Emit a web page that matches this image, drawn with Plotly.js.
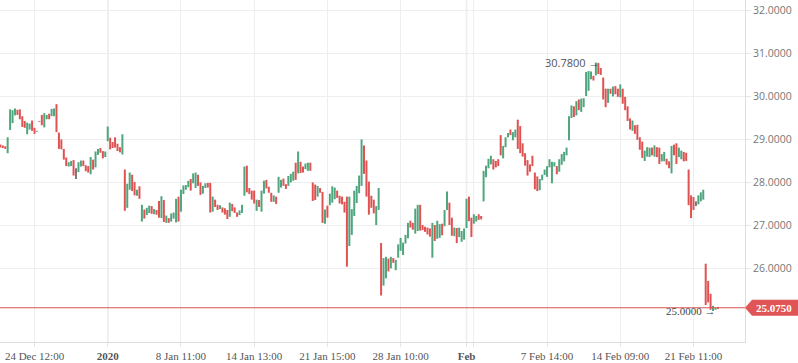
<!DOCTYPE html>
<html>
<head>
<meta charset="utf-8">
<script src="https://cdn.plot.ly/plotly-3.0.1.min.js"></script>
<style>
html,body{margin:0;padding:0;background:#fff;}
#chart{width:798px;height:363px;}
</style>
</head>
<body>
<div id="chart"></div>
<script>
// Bar highs (top of each bar)
const hi = [28.87,28.85,28.83,29.04,29.69,29.67,29.71,29.68,29.69,29.53,
29.42,29.38,29.36,29.43,29.26,29.19,29.42,29.56,29.60,29.56,
29.59,29.70,29.71,29.81,29.15,28.99,28.77,28.57,28.46,28.49,
28.51,28.32,28.46,28.50,28.50,28.39,28.37,28.58,28.52,28.71,
28.77,28.79,28.72,28.71,29.29,29.03,28.93,29.04,28.89,28.81,
29.11,28.29,27.96,28.22,28.17,28.00,27.82,27.90,27.47,27.36,
27.40,27.45,27.44,27.37,27.35,27.56,27.67,27.58,27.22,27.16,
27.27,27.29,27.61,27.66,27.82,27.92,27.93,28.03,28.07,28.20,
28.22,28.17,27.99,27.91,27.97,27.98,27.98,27.66,27.59,27.47,
27.46,27.41,27.39,27.35,27.52,27.49,27.41,27.29,27.34,27.47,
28.36,28.38,27.86,27.80,27.80,27.59,27.58,27.80,28.03,28.05,
27.89,27.75,27.69,27.66,28.12,28.05,28.08,27.95,28.14,28.19,
28.24,28.45,28.71,28.47,28.36,28.43,28.45,28.45,27.99,27.94,
27.91,27.86,27.77,27.36,27.45,27.73,27.90,27.87,27.80,27.68,
27.66,27.54,27.66,27.66,27.37,27.80,27.91,28.15,28.99,28.85,
28.50,28.01,27.68,27.59,27.44,27.86,26.58,26.23,26.26,26.22,
26.26,26.23,26.19,26.55,26.70,26.59,26.77,27.05,27.10,27.05,
27.38,27.47,27.47,27.00,26.96,26.94,26.92,27.05,27.00,27.10,
27.02,27.03,27.35,27.78,27.52,27.17,26.94,26.93,26.94,26.86,
26.92,27.61,27.66,27.17,27.25,27.21,27.25,27.21,28.26,28.38,
28.54,28.61,28.53,28.49,28.53,29.09,28.84,29.04,29.14,29.22,
29.16,29.22,29.45,29.30,28.90,28.67,28.51,28.41,28.61,28.22,
28.13,28.07,28.17,28.29,28.37,28.53,28.47,28.46,28.37,28.53,
28.65,28.70,28.80,29.53,29.78,29.76,29.88,29.92,29.94,29.95,
30.56,30.58,30.57,30.47,30.78,30.77,30.65,30.43,30.17,30.17,
30.17,30.22,30.23,30.17,30.27,30.17,29.98,29.76,29.48,29.43,
29.32,29.33,29.04,28.94,28.73,28.81,28.80,28.80,28.85,28.81,
28.80,28.65,28.70,28.54,28.48,28.84,28.87,28.90,28.80,28.73,
28.70,28.68,28.29,27.69,27.65,27.55,27.69,27.76,27.82,26.10,
25.70,25.40,25.12,25.07,25.09];
// Bar lows (bottom of each bar)
const lo = [28.80,28.79,28.77,28.67,29.21,29.37,29.55,29.56,29.46,29.28,
29.26,29.11,29.22,29.19,29.12,29.17,29.40,29.32,29.27,29.46,
29.46,29.53,29.53,29.16,28.77,28.76,28.52,28.37,28.36,28.37,
28.15,28.07,28.23,28.36,28.37,28.25,28.22,28.18,28.29,28.34,
28.63,28.68,28.55,28.58,28.95,28.76,28.79,28.80,28.72,28.69,
28.64,27.33,27.40,27.82,27.79,27.69,27.68,27.61,27.08,27.15,
27.23,27.28,27.26,27.25,27.24,27.17,27.16,27.07,27.05,27.05,
27.08,27.15,27.06,27.08,27.31,27.72,27.82,27.88,27.80,27.97,
27.86,27.91,27.70,27.73,27.86,27.87,27.29,27.31,27.42,27.35,
27.37,27.29,27.24,27.14,27.19,27.32,27.28,27.19,27.23,27.28,
27.68,27.76,27.72,27.59,27.50,27.33,27.42,27.31,27.73,27.85,
27.75,27.54,27.54,27.49,27.75,27.87,27.91,27.84,27.91,27.99,
28.03,28.05,28.20,28.21,28.22,28.30,28.26,28.26,27.56,27.58,
27.66,27.75,27.05,27.03,27.17,27.46,27.52,27.60,27.63,27.50,
27.48,27.29,26.03,26.51,26.77,27.21,27.51,27.74,27.91,28.19,
27.66,27.24,27.40,27.27,27.00,27.35,25.36,25.59,25.76,25.92,
25.99,26.12,25.95,26.24,26.40,26.30,26.57,26.69,26.94,26.89,
26.80,26.86,26.87,26.88,26.84,26.78,26.73,26.24,26.63,26.68,
26.70,26.76,26.97,27.35,27.00,26.75,26.74,26.58,26.72,26.61,
26.66,26.93,27.09,26.72,27.03,27.08,27.12,27.13,27.55,28.11,
28.32,28.41,28.29,28.34,28.37,28.62,28.55,28.81,29.04,29.09,
28.97,29.04,28.77,28.67,28.59,28.38,28.15,28.24,28.37,27.83,
27.79,27.81,28.04,28.16,28.12,28.34,27.97,28.36,28.18,28.24,
28.40,28.48,28.62,28.97,29.49,29.51,29.55,29.67,29.63,29.74,
30.00,30.12,30.39,30.36,30.48,30.51,30.49,29.92,29.74,29.84,
30.05,29.99,30.04,29.98,29.97,29.82,29.67,29.42,29.22,29.19,
29.12,28.98,28.75,28.56,28.49,28.59,28.58,28.62,28.59,28.58,
28.42,28.48,28.48,28.40,28.32,28.20,28.62,28.42,28.58,28.53,
28.48,28.49,27.46,27.16,27.35,27.44,27.48,27.55,27.59,25.14,
25.20,25.03,25.00,25.03,25.05];
// Direction: 1 = up (green), -1 = down (red), 0 = unchanged (gray)
const dir = [-1,-1,-1,1,1,1,1,-1,-1,-1,
-1,1,1,-1,-1,0,0,-1,1,1,
-1,1,1,-1,-1,-1,-1,-1,1,1,
-1,0,1,1,-1,-1,-1,1,-1,1,
1,-1,-1,1,1,-1,-1,-1,-1,-1,
1,-1,1,1,-1,-1,1,-1,1,-1,
1,1,-1,1,-1,-1,1,-1,1,-1,
1,1,1,-1,1,1,1,1,-1,1,
1,-1,-1,1,1,-1,-1,1,-1,-1,
1,-1,-1,-1,1,-1,-1,-1,1,1,
1,-1,-1,-1,-1,1,-1,1,1,-1,
-1,-1,1,-1,1,1,-1,-1,1,1,
1,-1,1,-1,-1,1,1,-1,-1,-1,
1,-1,-1,1,-1,1,1,1,-1,-1,
-1,-1,-1,1,1,1,1,1,1,-1,
-1,-1,-1,-1,1,1,-1,1,1,-1,
1,-1,1,1,1,1,1,1,-1,-1,
1,1,-1,-1,-1,-1,-1,1,-1,1,
1,-1,1,1,-1,-1,1,-1,1,1,
1,1,-1,-1,1,1,-1,-1,1,1,
1,1,-1,-1,-1,-1,1,1,1,-1,
1,1,-1,-1,-1,-1,-1,-1,-1,-1,
-1,1,1,1,1,1,1,1,-1,1,
1,1,1,1,1,-1,1,-1,1,1,
1,1,1,-1,1,-1,-1,-1,-1,1,
-1,1,-1,-1,1,-1,-1,-1,-1,1,
-1,-1,-1,-1,1,1,1,-1,1,-1,
-1,1,1,-1,-1,1,-1,-1,1,1,
-1,-1,-1,-1,-1,0,1,1,1,-1,
-1,-1,1,1,-1];

const tickIdx = [14,44,74,104,134,164,191,194,224,254,284];
const tickLabels = ['24 Dec 12:00','<b>2020</b>','8 Jan 11:00','14 Jan 13:00','21 Jan 15:00','28 Jan 10:00','<b>Feb</b>','','7 Feb 14:00','14 Feb 09:00','21 Feb 11:00'];
const majorIdx = [44,191];
const yTicks = [26,27,28,29,30,31,32];
const lastPrice = 25.075;

const GREEN = '#4fa57d', RED = '#e05252', GRAY = '#7a7a7a';

function mk(d, color) {
  const x = [], o = [], h = [], l = [], c = [];
  for (let i = 0; i < hi.length; i++) {
    if (dir[i] !== d) continue;
    x.push(i); h.push(hi[i]); l.push(lo[i]);
    if (d > 0) { o.push(lo[i]); c.push(hi[i]); }
    else if (d < 0) { o.push(hi[i]); c.push(lo[i]); }
    else { const m = (hi[i] + lo[i]) / 2; o.push(m); c.push(m); }
  }
  return {
    type: 'ohlc', x: x, open: o, high: h, low: l, close: c,
    tickwidth: 0, hoverinfo: 'skip', showlegend: false,
    increasing: {line: {color: color, width: 2}},
    decreasing: {line: {color: color, width: 2}}
  };
}

const traces = [mk(1, GREEN), mk(-1, RED), mk(0, GRAY)];

let maxI = 0, minI = 0;
for (let i = 0; i < hi.length; i++) {
  if (hi[i] > hi[maxI]) maxI = i;
  if (lo[i] < lo[minI]) minI = i;
}

const shapes = majorIdx.map(v => ({
  type: 'line', xref: 'x', yref: 'paper', x0: v, x1: v, y0: 0, y1: 1,
  line: {color: '#d6d8dc', width: 1.3}, layer: 'below'
}));
shapes.push({
  type: 'line', xref: 'paper', yref: 'y', x0: 0, x1: 1, y0: lastPrice, y1: lastPrice,
  line: {color: '#d9534f', width: 1}
});
shapes.push({
  type: 'path', xref: 'paper', yref: 'y', xsizemode: 'pixel', ysizemode: 'pixel',
  xanchor: 1, yanchor: lastPrice,
  path: 'M 0,0 L 7,8 L 53,8 L 53,-8 L 7,-8 Z',
  fillcolor: '#e05555', line: {width: 0}
});

const annotations = [
  {x: maxI, y: hi[maxI], xref: 'x', yref: 'y', text: hi[maxI].toFixed(4) + ' \u2192',
   showarrow: false, xanchor: 'right', yanchor: 'middle', xshift: 5,
   font: {family: 'Open Sans, Liberation Sans, sans-serif', size: 11, color: '#555'}},
  {x: minI, y: lo[minI], xref: 'x', yref: 'y', text: lo[minI].toFixed(4) + ' \u2192',
   showarrow: false, xanchor: 'right', yanchor: 'middle', xshift: 5,
   font: {family: 'Liberation Serif, serif', size: 11, color: '#444'}},
  {x: 1, y: lastPrice, xref: 'paper', yref: 'y', text: '<b>' + lastPrice.toFixed(4) + '</b>',
   showarrow: false, xanchor: 'left', yanchor: 'middle', xshift: 9,
   font: {family: 'Liberation Serif, serif', size: 11, color: '#ffffff'}}
];

const layout = {
  width: 798, height: 363,
  margin: {l: 0, r: 53, t: 0, b: 21, pad: 0},
  paper_bgcolor: '#ffffff', plot_bgcolor: '#ffffff',
  showlegend: false,
  xaxis: {
    type: 'linear', range: [-0.14, 305.1], fixedrange: true,
    rangeslider: {visible: false},
    tickmode: 'array', tickvals: tickIdx, ticktext: tickLabels,
    showgrid: true, gridcolor: '#eceef0', gridwidth: 1,
    zeroline: false, showline: true, linecolor: '#dcdde0', linewidth: 1,
    ticks: 'outside', ticklen: 4, tickcolor: '#e4e5e8',
    tickfont: {family: 'Liberation Serif, serif', size: 11, color: '#555'}
  },
  yaxis: {
    side: 'right', range: [24.279, 32.233], fixedrange: true,
    tickmode: 'array', tickvals: yTicks, tickformat: '.4f',
    showgrid: true, gridcolor: '#eceef0', gridwidth: 1,
    zeroline: false, showline: true, linecolor: '#dcdde0', linewidth: 1,
    ticks: 'outside', ticklen: 5, tickcolor: '#e4e5e8',
    tickfont: {family: 'Open Sans, Liberation Sans, sans-serif', size: 10.5, color: '#777'}
  },
  shapes: shapes,
  annotations: annotations
};

Plotly.newPlot('chart', traces, layout, {staticPlot: true, displayModeBar: false});
</script>
</body>
</html>
